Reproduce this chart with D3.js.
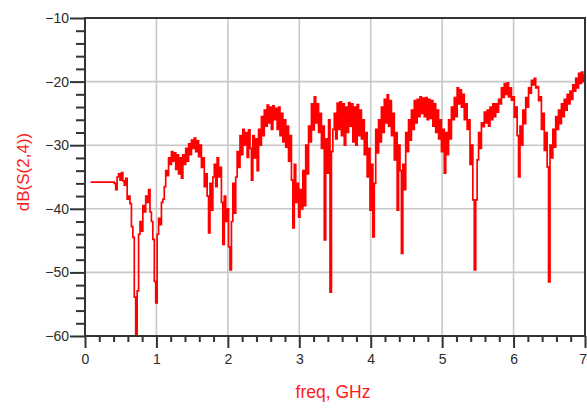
<!DOCTYPE html>
<html><head><meta charset="utf-8">
<script src="https://cdn.jsdelivr.net/npm/d3@7"></script>
<style>html,body{margin:0;padding:0;background:#fff;} svg{display:block;}</style>
</head><body><svg id="c" width="587" height="408"></svg>
<script>
const freqGHz = [0.08, 0.40,
 0.42,0.44,0.46,0.48,0.50,0.52,0.54,0.56,0.58,0.60,
 0.62,0.64,0.66,0.68,0.70,0.72,0.74,0.76,0.78,0.80,
 0.82,0.84,0.86,0.88,0.90,0.92,0.94,0.96,0.98,1.00,
 1.02,1.04,1.06,1.08,1.10,1.12,1.14,1.16,1.18,1.20,
 1.22,1.24,1.26,1.28,1.30,1.32,1.34,1.36,1.38,1.40,
 1.42,1.44,1.46,1.48,1.50,1.52,1.54,1.56,1.58,1.60,
 1.62,1.64,1.66,1.68,1.70,1.72,1.74,1.76,1.78,1.80,
 1.82,1.84,1.86,1.88,1.90,1.92,1.94,1.96,1.98,2.00,
 2.02,2.04,2.06,2.08,2.10,2.12,2.14,2.16,2.18,2.20,
 2.22,2.24,2.26,2.28,2.30,2.32,2.34,2.36,2.38,2.40,
 2.42,2.44,2.46,2.48,2.50,2.52,2.54,2.56,2.58,2.60,
 2.62,2.64,2.66,2.68,2.70,2.72,2.74,2.76,2.78,2.80,
 2.82,2.84,2.86,2.88,2.90,2.92,2.94,2.96,2.98,3.00,
 3.02,3.04,3.06,3.08,3.10,3.12,3.14,3.16,3.18,3.20,
 3.22,3.24,3.26,3.28,3.30,3.32,3.34,3.36,3.38,3.40,
 3.42,3.44,3.46,3.48,3.50,3.52,3.54,3.56,3.58,3.60,
 3.62,3.64,3.66,3.68,3.70,3.72,3.74,3.76,3.78,3.80,
 3.82,3.84,3.86,3.88,3.90,3.92,3.94,3.96,3.98,4.00,
 4.02,4.04,4.06,4.08,4.10,4.12,4.14,4.16,4.18,4.20,
 4.22,4.24,4.26,4.28,4.30,4.32,4.34,4.36,4.38,4.40,
 4.42,4.44,4.46,4.48,4.50,4.52,4.54,4.56,4.58,4.60,
 4.62,4.64,4.66,4.68,4.70,4.72,4.74,4.76,4.78,4.80,
 4.82,4.84,4.86,4.88,4.90,4.92,4.94,4.96,4.98,5.00,
 5.02,5.04,5.06,5.08,5.10,5.12,5.14,5.16,5.18,5.20,
 5.22,5.24,5.26,5.28,5.30,5.32,5.34,5.36,5.38,5.40,
 5.42,5.44,5.46,5.48,5.50,5.52,5.54,5.56,5.58,5.60,
 5.62,5.64,5.66,5.68,5.70,5.72,5.74,5.76,5.78,5.80,
 5.82,5.84,5.86,5.88,5.90,5.92,5.94,5.96,5.98,6.00,
 6.02,6.04,6.06,6.08,6.10,6.12,6.14,6.16,6.18,6.20,
 6.22,6.24,6.26,6.28,6.30,6.32,6.34,6.36,6.38,6.40,
 6.42,6.44,6.46,6.48,6.50,6.52,6.54,6.56,6.58,6.60,
 6.62,6.64,6.66,6.68,6.70,6.72,6.74,6.76,6.78,6.80,
 6.82,6.84,6.86,6.88,6.90,6.92,6.94,6.96,6.98,7.00];

const dBS24 = [-35.8, -35.8,
 -36.0,-37.0,-35.0,-34.5,-35.5,-34.3,-35.6,-36.3,-35.2,-38.5,
 -38.0,-39.2,-42.8,-44.5,-53.9,-60.0,-52.9,-44.0,-42.0,-43.5,
 -39.5,-40.5,-38.0,-39.0,-37.0,-40.5,-42.0,-44.8,-51.4,-54.8,
 -44.0,-41.5,-42.5,-39.0,-38.5,-36.5,-34.0,-34.8,-32.0,-33.0,
 -31.0,-32.5,-31.2,-33.8,-31.5,-34.5,-32.0,-35.2,-31.5,-33.0,
 -30.5,-32.5,-29.8,-31.5,-29.2,-30.5,-28.9,-31.0,-29.3,-31.8,
 -30.0,-33.5,-32.0,-36.5,-34.5,-38.0,-43.8,-36.0,-40.2,-35.0,
 -33.0,-36.5,-32.0,-35.0,-33.5,-39.0,-45.6,-38.0,-42.0,-40.0,
 -46.0,-49.6,-42.0,-36.0,-40.7,-35.0,-31.0,-33.5,-28.5,-31.5,
 -27.5,-30.0,-28.0,-31.9,-27.6,-30.5,-35.5,-28.5,-32.0,-29.0,
 -34.0,-27.5,-30.0,-25.5,-28.5,-24.5,-27.0,-23.7,-26.5,-24.0,
 -27.5,-23.8,-26.0,-24.2,-27.5,-24.0,-28.5,-25.0,-29.5,-26.0,
 -30.3,-27.0,-32.5,-28.5,-35.5,-43.0,-33.0,-39.0,-36.0,-41.3,
 -37.0,-40.0,-34.0,-39.5,-30.0,-34.5,-27.0,-29.5,-23.5,-27.6,
 -22.4,-26.5,-23.5,-28.0,-25.0,-30.5,-27.0,-44.9,-29.0,-34.4,
 -26.0,-53.1,-31.0,-27.5,-25.0,-29.0,-23.4,-27.5,-23.2,-28.5,
 -23.5,-30.0,-24.0,-28.0,-23.3,-27.0,-23.5,-29.5,-24.0,-30.0,
 -23.6,-28.5,-24.5,-29.0,-26.0,-31.5,-28.0,-35.0,-30.5,-40.2,
 -33.0,-44.4,-36.0,-27.5,-31.2,-26.0,-29.5,-24.0,-28.0,-22.8,
 -26.5,-22.1,-27.0,-23.0,-28.5,-25.0,-32.3,-28.0,-40.2,-30.0,
 -34.0,-47.0,-33.0,-37.0,-28.0,-31.0,-26.0,-29.2,-24.5,-27.5,
 -23.0,-26.5,-22.8,-25.5,-22.4,-25.0,-22.6,-25.5,-22.5,-26.0,
 -22.8,-25.8,-23.0,-27.0,-23.5,-28.0,-24.5,-29.0,-26.0,-31.0,
 -27.5,-34.4,-28.0,-31.5,-26.0,-29.0,-24.0,-26.0,-22.5,-25.5,
 -21.0,-23.5,-21.3,-24.0,-22.0,-26.0,-23.5,-27.5,-26.0,-33.0,
 -30.0,-38.6,-49.6,-38.6,-32.3,-28.0,-30.5,-26.5,-27.1,-24.8,
 -26.5,-24.5,-27.0,-24.0,-26.0,-23.5,-25.5,-23.5,-24.8,-22.8,
 -23.5,-21.0,-22.5,-20.3,-22.0,-20.2,-22.4,-21.0,-22.9,-22.4,
 -25.6,-24.0,-28.5,-35.0,-27.0,-30.0,-24.5,-26.6,-22.5,-24.0,
 -21.0,-21.8,-19.8,-20.5,-19.5,-21.0,-20.8,-23.0,-22.4,-27.5,
 -25.0,-30.8,-28.0,-33.4,-51.5,-30.0,-32.0,-27.5,-30.3,-25.5,
 -27.5,-24.5,-26.6,-23.5,-25.5,-22.8,-24.5,-22.0,-23.5,-21.5,
 -22.8,-20.5,-21.5,-19.5,-21.0,-18.7,-20.3,-18.5,-20.0,-19.0];

const xTicks = [0,1,2,3,4,5,6,7];
const yTicks = [-60,-50,-40,-30,-20,-10];
const xLabel = "freq, GHz";
const yLabel = "dB(S(2,4))";

const W = 587, H = 408;
const L = 85, R = 585, T = 18, B = 336;
const svg = d3.select("#c");
const x = d3.scaleLinear().domain([0,7]).range([L,R]);
const y = d3.scaleLinear().domain([-60,-10]).range([B,T]);
const FONT = "'Liberation Sans', Arial, sans-serif";

// grid
const grid = svg.append("g");
grid.selectAll(".gx").data(xTicks.filter(d => d > 0 && d < 7)).join("line")
  .attr("x1", d => x(d)).attr("x2", d => x(d)).attr("y1", T).attr("y2", B)
  .attr("stroke", "#c8c8c8").attr("stroke-width", 1.6);
grid.selectAll(".gy").data(yTicks.filter(d => d > -60 && d < -10)).join("line")
  .attr("x1", L).attr("x2", R).attr("y1", d => y(d)).attr("y2", d => y(d))
  .attr("stroke", "#c8c8c8").attr("stroke-width", 1.6);

// trace
svg.append("clipPath").attr("id","clip").append("rect")
  .attr("x", L).attr("y", T).attr("width", R - L).attr("height", B - T);
const pts = freqGHz.map((f,i) => [f, dBS24[i]]);
svg.append("path").datum(pts)
  .attr("clip-path","url(#clip)")
  .attr("fill","none").attr("stroke","#ff0000").attr("stroke-width",1.7)
  .attr("stroke-linejoin","miter")
  .attr("d", d3.line().curve(d3.curveStep).x(d => x(d[0])).y(d => y(d[1])));

// minor ticks
const minorX = d3.range(0, 7.001, 0.2).filter(v => Math.abs(v - Math.round(v)) > 1e-6);
const minorY = d3.range(-60, -9.99, 2).filter(v => v % 10 !== 0);
const ax = svg.append("g").attr("transform", `translate(0,${B})`)
  .call(d3.axisBottom(x).tickValues(minorX).tickSize(6).tickFormat(""));
const ay = svg.append("g").attr("transform", `translate(${L},0)`)
  .call(d3.axisLeft(y).tickValues(minorY).tickSize(9).tickFormat(""));
[ax, ay].forEach(g => { g.select(".domain").remove(); g.selectAll("line").attr("stroke","#333").attr("stroke-width",2); });

// major ticks
const axM = svg.append("g").attr("transform", `translate(0,${B})`)
  .call(d3.axisBottom(x).tickValues(xTicks).tickSize(12).tickPadding(6).tickFormat(d3.format("d")));
const ayM = svg.append("g").attr("transform", `translate(${L},0)`)
  .call(d3.axisLeft(y).tickValues(yTicks).tickSize(15).tickPadding(1).tickFormat(d3.format("d")));
[axM, ayM].forEach(g => {
  g.select(".domain").remove();
  g.selectAll("line").attr("stroke","#333").attr("stroke-width",2);
  g.selectAll("text").attr("fill","#2a2a2a").style("font-family", FONT).style("font-size","14px");
});
// keep the last x label inside the window
axM.selectAll(".tick").filter(d => d === 7).select("text")
  .attr("text-anchor","end").attr("x", W - R - 0.5);

// frame
svg.append("rect").attr("x", L).attr("y", T).attr("width", R - L).attr("height", B - T)
  .attr("fill","none").attr("stroke","#333").attr("stroke-width",2);

// axis titles
svg.append("text").attr("x", (L + R) / 2 - 2).attr("y", 398)
  .attr("text-anchor","middle").attr("fill","#ff1a1a")
  .style("font-family", FONT).style("font-size","17.5px").text(xLabel);
svg.append("text").attr("transform", "translate(29,172) rotate(-90)")
  .attr("text-anchor","middle").attr("fill","#ff1a1a")
  .style("font-family", FONT).style("font-size","17px").text(yLabel);
</script>
</body></html>
